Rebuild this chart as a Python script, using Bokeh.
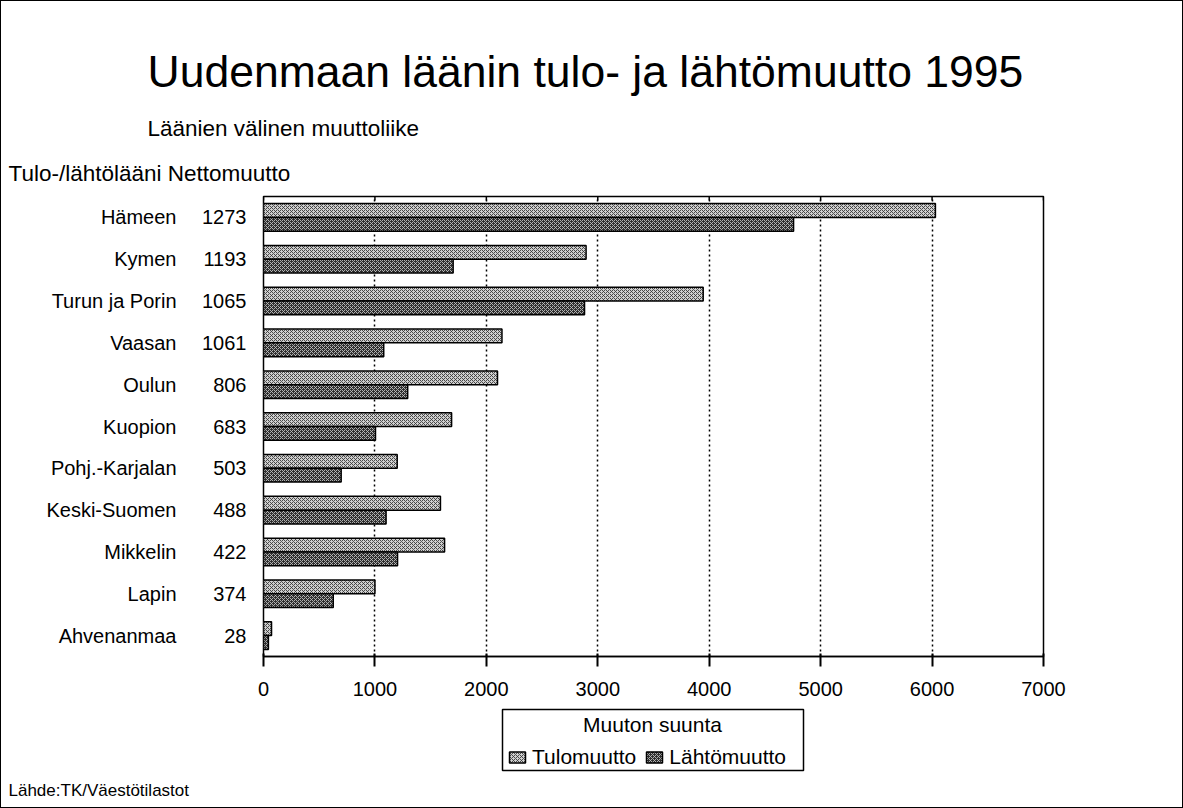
from bokeh.plotting import figure
from bokeh.layouts import column
from bokeh.models import (ColumnDataSource, Range1d, LinearAxis, FixedTicker,
                          Title, Legend, LegendItem, Label, BoxAnnotation)
from bokeh.embed import file_html
from bokeh.resources import INLINE

# ---- data ----
laanit = ["Hämeen", "Kymen", "Turun ja Porin", "Vaasan", "Oulun", "Kuopion",
          "Pohj.-Karjalan", "Keski-Suomen", "Mikkelin", "Lapin", "Ahvenanmaa"]
nettomuutto = [1273, 1193, 1065, 1061, 806, 683, 503, 488, 422, 374, 28]
tulomuutto = [6030, 2895, 3946, 2140, 2100, 1688, 1200, 1588, 1625, 1000, 72]
lahtomuutto = [4757, 1702, 2881, 1079, 1294, 1005, 697, 1100, 1203, 626, 44]
x_ticks = [0, 1000, 2000, 3000, 4000, 5000, 6000, 7000]
series = ["Tulomuutto", "Lähtömuutto"]

FONT = "Liberation Sans"
n = len(laanit)
centers = [n - 1 - i + 0.5 for i in range(n)]
BAR_H = 0.33

src = ColumnDataSource(dict(
    y_t=[c + BAR_H / 2 for c in centers],
    y_l=[c - BAR_H / 2 for c in centers],
    tulo=tulomuutto, lahto=lahtomuutto))

STYLE_T = dict(fill_color="#cfcfcf", line_color="black", line_width=1.5,
               hatch_pattern="diagonal_cross", hatch_color="#3a3a3a",
               hatch_scale=4, hatch_weight=0.9)
STYLE_L = dict(fill_color="#2e2e2e", line_color="black", line_width=1.5,
               hatch_pattern="diagonal_cross", hatch_color="#bdbdbd",
               hatch_scale=4, hatch_weight=0.9)

W = 1181
FL, FT, FW, FH, FB = 262, 195, 780, 460, 51
FR = W - FL - FW
p = figure(frame_width=FW, frame_height=FH, output_backend="svg", toolbar_location=None,
           x_range=Range1d(0, 7000), y_range=Range1d(0, n),
           x_axis_location=None, y_axis_location=None,
           min_border_left=FL, min_border_top=FT,
           min_border_right=FR, min_border_bottom=FB)
p.title = None
p.outline_line_color = "black"
p.outline_line_width = 1.5
p.background_fill_color = "white"
p.border_fill_color = "white"

# grid
p.xgrid.ticker = FixedTicker(ticks=x_ticks)
p.xgrid.grid_line_color = "black"
p.xgrid.grid_line_dash = "2 3"
p.xgrid.grid_line_width = 1.5
p.ygrid.grid_line_color = None

# small inward ticks on the top edge of the frame
TICK_LEN = 4 * n / FH
p.segment(x0=x_ticks, x1=x_ticks, y0=[n] * len(x_ticks),
          y1=[n - TICK_LEN] * len(x_ticks), line_color="black", line_width=1.5)

p.hbar(y="y_t", left=0, right="tulo", height=BAR_H, source=src, **STYLE_T)
p.hbar(y="y_l", left=0, right="lahto", height=BAR_H, source=src, **STYLE_L)

# x axis
xax = LinearAxis(ticker=FixedTicker(ticks=x_ticks))
xax.axis_line_width = 1.5
xax.major_tick_in = 3
xax.major_tick_out = 10
xax.major_tick_line_width = 2
xax.minor_tick_line_color = None
xax.major_label_text_font = FONT
xax.major_label_text_font_size = "20px"
xax.major_label_text_color = "black"
xax.major_label_standoff = 15
p.add_layout(xax, "below")

# y axes: nettomuutto (inner) and lääni names (outer)
num_ax = LinearAxis(ticker=FixedTicker(ticks=centers),
                    major_label_overrides={c: str(v) for c, v in zip(centers, nettomuutto)})
name_ax = LinearAxis(ticker=FixedTicker(ticks=centers),
                     major_label_overrides={c: s for c, s in zip(centers, laanit)})
for ax, so in ((num_ax, 17), (name_ax, 23)):
    ax.axis_line_color = None
    ax.major_tick_line_color = None
    ax.minor_tick_line_color = None
    ax.major_tick_in = 0
    ax.major_tick_out = 0
    ax.major_label_text_font = FONT
    ax.major_label_text_font_size = "20px"
    ax.major_label_text_color = "black"
    ax.major_label_standoff = so
    p.add_layout(ax, "left")

# titles (above, stacked outward from the frame)
LEFT_TXT = 8 - (FL + 1)
for txt, fs, so, off in (("Tulo-/lähtölääni Nettomuutto", "22.5px", 22, LEFT_TXT),
                         ("Läänien välinen muuttoliike", "22.5px", 14, 147 - (FL + 1)),
                         ("Uudenmaan läänin tulo- ja lähtömuutto 1995", "44.5px", 22, 147 - (FL + 1))):
    t = Title(text=txt, align="left", offset=off, standoff=so,
              vertical_align="bottom", text_font=FONT, text_font_size=fs,
              text_font_style="normal", text_color="black")
    p.add_layout(t, "above")

# ---- bottom strip: legend and source; its frame is aligned with the main frame,
# ranges are set so that data units equal page pixels ----
TOP2 = 1 + FT + FH + FB          # page y where the strip starts
FH2, FB2 = 68, 32
p2 = figure(frame_width=FW, frame_height=FH2, output_backend="svg", toolbar_location=None,
            x_range=Range1d(FL + 1, FL + 1 + FW), y_range=Range1d(TOP2 + FH2, TOP2),
            x_axis_location=None, y_axis_location=None,
            min_border_left=FL, min_border_right=FR,
            min_border_top=0, min_border_bottom=FB2)
p2.title = None
p2.grid.visible = False
p2.outline_line_color = None
p2.border_fill_color = "white"

# legend proxies: same series, hidden (legend only)
lt = p2.hbar(y="y_t", left=0, right="tulo", height=BAR_H, source=src, visible=False, **STYLE_T)
ll = p2.hbar(y="y_l", left=0, right="lahto", height=BAR_H, source=src, visible=False, **STYLE_L)

p2.add_layout(BoxAnnotation(left=502, right=803, top=709, bottom=770,
                            fill_alpha=0, line_color="black", line_alpha=1,
                            line_width=1.5))
p2.add_layout(Label(x=652, y=724, text="Muuton suunta", text_font=FONT,
                    text_font_size="21px", text_align="center",
                    text_baseline="middle", text_color="black"))

legend = Legend(items=[LegendItem(label=series[0], renderers=[lt]),
                       LegendItem(label=series[1], renderers=[ll])],
                orientation="horizontal", location=(507 - (FL + 1), 6))
legend.border_line_color = None
legend.background_fill_alpha = 0
legend.inactive_fill_alpha = 0
legend.label_text_font = FONT
legend.label_text_font_size = "21px"
legend.label_text_color = "black"
legend.glyph_width = 20
legend.glyph_height = 14
legend.padding = 3
legend.spacing = 8
legend.label_standoff = 5
legend.margin = 0
p2.add_layout(legend, "center")

p2.add_layout(Title(text="Lähde:TK/Väestötilastot", align="left", offset=LEFT_TXT,
                    standoff=10, vertical_align="top", text_font=FONT,
                    text_font_size="17px", text_font_style="normal",
                    text_color="black"), "below")

layout = column(p, p2, spacing=0)
layout.styles = {"border": "1px solid black"}

open("out.html", "w").write(file_html(layout, INLINE))
